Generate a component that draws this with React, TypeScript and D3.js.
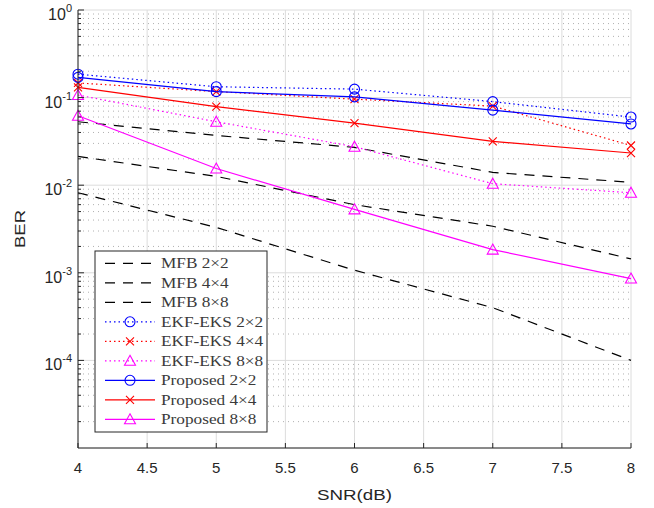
import React from "react";
import * as d3 from "d3";

const snr = [4, 5, 6, 7, 8];
const mfb2 = [0.053, 0.037, 0.027, 0.014, 0.0108];
const mfb4 = [0.0213, 0.0126, 0.006, 0.0034, 0.00144];
const mfb8 = [0.0082, 0.0033, 0.00107, 0.0004, 0.0001];
const ekf2 = [0.185, 0.133, 0.125, 0.09, 0.06];
const ekf4 = [0.147, 0.117, 0.096, 0.08, 0.0284];
const ekf8 = [0.107, 0.053, 0.0275, 0.0104, 0.0082];
const prop2 = [0.17, 0.117, 0.102, 0.072, 0.05];
const prop4 = [0.131, 0.079, 0.051, 0.0316, 0.0233];
const prop8 = [0.062, 0.0155, 0.0053, 0.00184, 0.00086];

const xTicks = [4, 4.5, 5, 5.5, 6, 6.5, 7, 7.5, 8];
const yExponents = [0, -1, -2, -3, -4, -5];

type Series = { name: string; values: number[]; color: string; dash: string; marker: string };

const series: Series[] = [
  { name: "MFB 2\u00d72", values: mfb2, color: "#000000", dash: "10,8", marker: "none" },
  { name: "MFB 4\u00d74", values: mfb4, color: "#000000", dash: "10,8", marker: "none" },
  { name: "MFB 8\u00d78", values: mfb8, color: "#000000", dash: "10,8", marker: "none" },
  { name: "EKF-EKS 2\u00d72", values: ekf2, color: "#0000ff", dash: "1.5,3", marker: "circle" },
  { name: "EKF-EKS 4\u00d74", values: ekf4, color: "#ff0000", dash: "1.5,3", marker: "x" },
  { name: "EKF-EKS 8\u00d78", values: ekf8, color: "#ff00ff", dash: "1.5,3", marker: "triangle" },
  { name: "Proposed 2\u00d72", values: prop2, color: "#0000ff", dash: "none", marker: "circle" },
  { name: "Proposed 4\u00d74", values: prop4, color: "#ff0000", dash: "none", marker: "x" },
  { name: "Proposed 8\u00d78", values: prop8, color: "#ff00ff", dash: "none", marker: "triangle" },
];

const W = 654;
const H = 508;
const L = 78, R = 631, T = 10, B = 448;
const AX = "#262626";

function Marker({ type, x, y, color }: { type: string; x: number; y: number; color: string }) {
  if (type === "circle") return <circle cx={x} cy={y} r={5} fill="none" stroke={color} strokeWidth={1.1} />;
  if (type === "x")
    return (
      <path d={`M${x - 4},${y - 4}L${x + 4},${y + 4}M${x - 4},${y + 4}L${x + 4},${y - 4}`} stroke={color} strokeWidth={1.1} fill="none" />
    );
  if (type === "triangle")
    return <path d={`M${x},${y - 5.5}L${x + 5.5},${y + 4.5}L${x - 5.5},${y + 4.5}Z`} fill="none" stroke={color} strokeWidth={1.1} />;
  return null;
}

export default function App() {
  const x = d3.scaleLinear().domain([4, 8]).range([L, R]);
  const y = d3.scaleLog().domain([1e-5, 1]).range([B, T]);
  const line = d3
    .line<number>()
    .x((_, i) => x(snr[i]))
    .y((d) => y(d));

  const minor: number[] = [];
  for (let e = -5; e < 0; e++) for (let k = 2; k <= 9; k++) minor.push(k * Math.pow(10, e));

  const legX = 95, legY = 251, legW = 172, legH = 181;
  return (
    <svg width={W} height={H} style={{ position: "absolute", left: 0, top: 0, background: "#fff" }}>
      <rect x={0} y={0} width={W} height={H} fill="#fff" />
      {minor.map((v, i) => (
        <line key={"mg" + i} x1={L} x2={R} y1={y(v)} y2={y(v)} stroke="#b0b0b0" strokeWidth={1} strokeDasharray="1,4" />
      ))}
      {yExponents.map((e) => (
        <line key={"gy" + e} x1={L} x2={R} y1={y(Math.pow(10, e))} y2={y(Math.pow(10, e))} stroke="#dcdcdc" strokeWidth={1} />
      ))}
      {xTicks.map((t) => (
        <line key={"gx" + t} x1={x(t)} x2={x(t)} y1={T} y2={B} stroke="#dcdcdc" strokeWidth={1} />
      ))}
      {series.map((s) => (
        <g key={s.name}>
          <path d={line(s.values) || ""} fill="none" stroke={s.color} strokeWidth={1.2} strokeDasharray={s.dash === "none" ? undefined : s.dash} />
          {s.values.map((v, i) => (
            <Marker key={i} type={s.marker} x={x(snr[i])} y={y(v)} color={s.color} />
          ))}
        </g>
      ))}
      <line x1={L} x2={L} y1={T} y2={B} stroke={AX} strokeWidth={1} />
      <line x1={L} x2={R} y1={B} y2={B} stroke={AX} strokeWidth={1} />
      {xTicks.map((t) => (
        <g key={"xt" + t}>
          <line x1={x(t)} x2={x(t)} y1={B} y2={B - 5} stroke={AX} />
          <text x={x(t)} y={473} textAnchor="middle" fontFamily="Liberation Sans, Arial, sans-serif" fontSize={15} fill={AX}>
            {t}
          </text>
        </g>
      ))}
      {yExponents.slice(0, 5).map((e) => (
        <g key={"yt" + e}>
          <line x1={L} x2={L + 6} y1={y(Math.pow(10, e))} y2={y(Math.pow(10, e))} stroke={AX} />
          <text x={72} y={y(Math.pow(10, e)) + 10} textAnchor="end" fontFamily="Liberation Sans, Arial, sans-serif" fontSize={16} fill={AX}>
            10
            <tspan fontSize={11} dy={-8}>
              {e}
            </tspan>
          </text>
        </g>
      ))}
      {minor.map((v, i) => (
        <line key={"mt" + i} x1={L} x2={L + 3} y1={y(v)} y2={y(v)} stroke={AX} />
      ))}
      <text x={354.5} y={500} textAnchor="middle" fontFamily="Liberation Sans, Arial, sans-serif" fontSize={15} fill={AX} textLength={75} lengthAdjust="spacingAndGlyphs">
        SNR(dB)
      </text>
      <text
        transform={`translate(25,${(T + B) / 2}) rotate(-90)`}
        textAnchor="middle"
        fontFamily="Liberation Sans, Arial, sans-serif"
        fontSize={15}
        fill={AX}
        textLength={38}
        lengthAdjust="spacingAndGlyphs"
      >
        BER
      </text>
      <rect x={legX} y={legY} width={legW} height={legH} fill="#fff" stroke={AX} strokeWidth={1} />
      {series.map((s, i) => {
        const cy = 263.3 + i * 19.5;
        return (
          <g key={"lg" + s.name}>
            <line x1={105} x2={155} y1={cy} y2={cy} stroke={s.color} strokeWidth={1.2} strokeDasharray={s.dash === "none" ? undefined : s.dash} />
            <Marker type={s.marker} x={130} y={cy} color={s.color} />
            <text transform={`translate(161,${cy + 5}) scale(1.15,1)`} fontFamily="Liberation Serif, Times New Roman, serif" fontSize={15} fill="#3a3a3a">
              {s.name}
            </text>
          </g>
        );
      })}
    </svg>
  );
}
